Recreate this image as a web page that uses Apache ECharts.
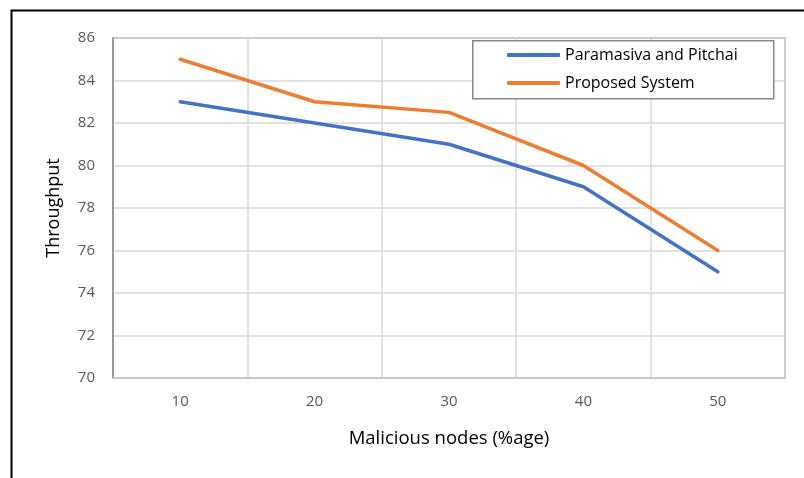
<!DOCTYPE html>
<html><head><meta charset="utf-8">
<script src="https://cdn.jsdelivr.net/npm/echarts@6/dist/echarts.min.js"></script>
<style>html,body{margin:0;padding:0;background:#fff}#c{width:804px;height:478px}</style>
</head><body><div id="c"></div>
<script>
const categories = ['10', '20', '30', '40', '50'];
const paramasiva = [83, 82, 81, 79, 75];
const proposed = [85, 83, 82.5, 80, 76];
const seriesNames = ['Paramasiva and Pitchai', 'Proposed System'];
const xTitle = 'Malicious nodes (%age)';
const yTitle = 'Throughput';

const FONT = '"Open Sans", Lato, sans-serif';
const chart = echarts.init(document.getElementById('c'), null, {renderer: 'canvas'});
chart.setOption({
  animation: false,
  backgroundColor: '#fff',
  graphic: [
    {type: 'rect', left: 9, top: 8, shape: {x: 0, y: 0, width: 1000, height: 1000},
     style: {fill: 'none', stroke: '#000', lineWidth: 2}, z: 0},
    {type: 'rect', left: 472, top: 40, shape: {x: 0, y: 0, width: 301, height: 58},
     style: {fill: '#fff', stroke: '#888', lineWidth: 1.5}, z: 50}
  ],
  grid: {left: 113, right: 19, top: 38, bottom: 100, show: true,
         borderColor: '#8a8a8a', borderWidth: 1.5, backgroundColor: 'transparent'},
  legend: {
    orient: 'vertical', left: 502, top: 41, itemWidth: 53, itemHeight: 4, itemGap: 10,
    icon: 'roundRect', z: 60,
    textStyle: {fontFamily: FONT, fontSize: 16, color: '#000', lineHeight: 18},
    data: seriesNames
  },
  xAxis: {
    type: 'category', data: categories, boundaryGap: true,
    axisLine: {show: true, lineStyle: {color: '#c8c8c8', width: 1.5}},
    axisTick: {show: false},
    axisLabel: {color: '#595959', fontFamily: FONT, fontSize: 15, margin: 16},
    splitLine: {show: true, interval: 0, lineStyle: {color: '#d9d9d9', width: 1.5}},
    name: xTitle, nameLocation: 'middle', nameGap: 51,
    nameTextStyle: {color: '#000', fontFamily: FONT, fontSize: 18.5}
  },
  yAxis: {
    type: 'value', min: 70, max: 86, interval: 2,
    axisLine: {show: true, lineStyle: {color: '#8a8a8a', width: 1.5}},
    axisTick: {show: false},
    axisLabel: {color: '#595959', fontFamily: FONT, fontSize: 15, margin: 18},
    splitLine: {show: true, lineStyle: {color: '#d9d9d9', width: 1.5}},
    name: yTitle, nameLocation: 'middle', nameGap: 50, nameRotate: 90,
    nameTextStyle: {color: '#000', fontFamily: FONT, fontSize: 18}
  },
  series: [
    {name: seriesNames[0], type: 'line', data: paramasiva, showSymbol: false, symbol: 'none',
     color: '#4472C4', lineStyle: {width: 3.5, color: '#4472C4', cap: 'round', join: 'round'}, z: 10},
    {name: seriesNames[1], type: 'line', data: proposed, showSymbol: false, symbol: 'none',
     color: '#ED7D31', lineStyle: {width: 3.5, color: '#ED7D31', cap: 'round', join: 'round'}, z: 10}
  ]
});
</script></body></html>
